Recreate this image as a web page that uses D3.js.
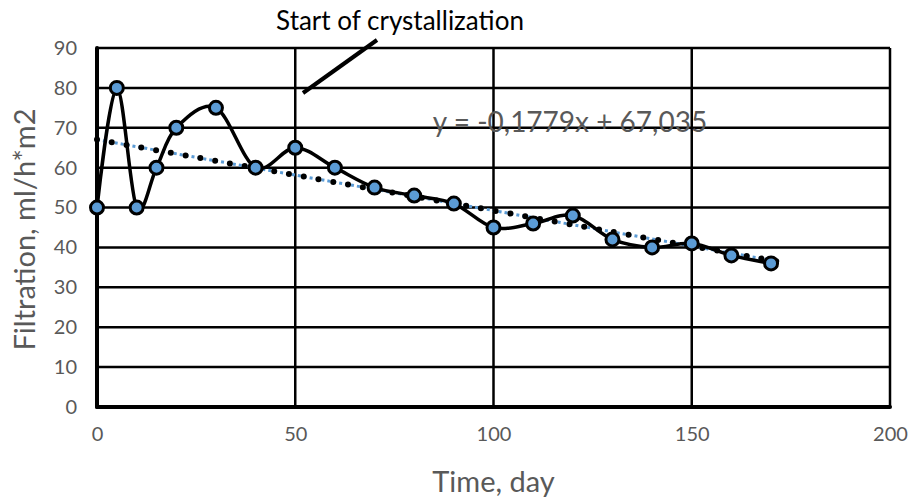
<!DOCTYPE html>
<html lang="en">
<head>
<meta charset="utf-8" />
<title>Filtration</title>
<script src="https://cdn.jsdelivr.net/npm/d3@7"></script>
<style>
  body { margin: 0; background: #fff; font-family: Lato, "Open Sans", sans-serif; }
  .tick text { fill: #595959; font-size: 20px; }
</style>
</head>
<body>
<div id="chart"></div>
<script>
var width = 912, height = 498;
var margin = {left: 97, right: 22, top: 48, bottom: 91};

// data
var days = [0, 5, 10, 15, 20, 30, 40, 50, 60, 70, 80, 90, 100, 110, 120, 130, 140, 150, 160, 170];
var filtration = [50, 80, 50, 60, 70, 75, 60, 65, 60, 55, 53, 51, 45, 46, 48, 42, 40, 41, 38, 36];
var xTicks = [0, 50, 100, 150, 200];
var yTicks = [0, 10, 20, 30, 40, 50, 60, 70, 80, 90];
var slope = -0.1779, intercept = 67.035;
var trendRange = [0, 172];

var svg = d3.select("#chart").append("svg")
  .attr("width", width)
  .attr("height", height);

var x = d3.scaleLinear().domain([0, 200]).range([margin.left, width - margin.right]);
var y = d3.scaleLinear().domain([0, 90]).range([height - margin.bottom, margin.top]);

// grid
svg.append("g").selectAll("line").data(yTicks).enter().append("line")
  .attr("x1", x(0)).attr("x2", x(200))
  .attr("y1", function(d) { return y(d); }).attr("y2", function(d) { return y(d); })
  .attr("stroke", "#000").attr("stroke-width", 2.5);
svg.append("g").selectAll("line").data(xTicks).enter().append("line")
  .attr("y1", y(0)).attr("y2", y(90))
  .attr("x1", function(d) { return x(d); }).attr("x2", function(d) { return x(d); })
  .attr("stroke", "#000").attr("stroke-width", 2.5);

// main axes, heavier
svg.append("line").attr("x1", x(0)).attr("x2", x(200)).attr("y1", y(0)).attr("y2", y(0))
  .attr("stroke", "#000").attr("stroke-width", 4).attr("stroke-linecap", "round");
svg.append("line").attr("x1", x(0)).attr("x2", x(0)).attr("y1", y(0)).attr("y2", y(90))
  .attr("stroke", "#000").attr("stroke-width", 4).attr("stroke-linecap", "round");

// tick labels
var xAxis = svg.append("g").attr("transform", "translate(0," + (y(0) + 12) + ")")
  .call(d3.axisBottom(x).tickValues(xTicks).tickSize(0).tickPadding(8));
xAxis.select(".domain").remove();
var yAxis = svg.append("g").attr("transform", "translate(" + (x(0) - 16) + ",0)")
  .call(d3.axisLeft(y).tickValues(yTicks).tickSize(0).tickPadding(4));
yAxis.select(".domain").remove();
svg.selectAll(".tick text").attr("font-family", "Lato, 'Open Sans', sans-serif");

// axis titles
svg.append("text").attr("x", x(100)).attr("y", 492)
  .attr("text-anchor", "middle").attr("fill", "#595959").attr("font-size", 29)
  .text("Time, day");
svg.append("text").attr("transform", "translate(35," + (y(45) + 2) + ") rotate(-90)")
  .attr("text-anchor", "middle").attr("fill", "#595959").attr("font-size", 29)
  .text("Filtration, ml/h*m2");

// trend line: blue dotted under black dots
var trend = trendRange.map(function(d) { return [d, slope * d + intercept]; });
var tline = d3.line().x(function(d) { return x(d[0]); }).y(function(d) { return y(d[1]); });
svg.append("path").datum(trend).attr("d", tline)
  .attr("fill", "none").attr("stroke", "#5b9bd5").attr("stroke-width", 3)
  .attr("stroke-dasharray", "3,3");
svg.append("path").datum(trend).attr("d", tline)
  .attr("fill", "none").attr("stroke", "#000").attr("stroke-width", 6)
  .attr("stroke-linecap", "round").attr("stroke-dasharray", "0,15");

// smoothed series
var pts = days.map(function(d, i) { return [d, filtration[i]]; });
var line = d3.line().curve(d3.curveCatmullRom.alpha(0))
  .x(function(d) { return x(d[0]); }).y(function(d) { return y(d[1]); });
svg.append("path").datum(pts).attr("d", line)
  .attr("fill", "none").attr("stroke", "#000").attr("stroke-width", 3.5);

svg.append("g").selectAll("circle").data(pts).enter().append("circle")
  .attr("cx", function(d) { return x(d[0]); })
  .attr("cy", function(d) { return y(d[1]); })
  .attr("r", 6.5)
  .attr("fill", "#5b9bd5").attr("stroke", "#000").attr("stroke-width", 3);

// equation label
svg.append("text").attr("x", 570).attr("y", 132)
  .attr("text-anchor", "middle").attr("fill", "#595959").attr("font-size", 28)
  .text("y = -0,1779x + 67,035");

// annotation
svg.append("text").attr("x", 400).attr("y", 30)
  .attr("text-anchor", "middle").attr("fill", "#000").attr("font-size", 26)
  .text("Start of crystallization");
svg.append("line").attr("x1", 303).attr("y1", 93).attr("x2", 377).attr("y2", 40)
  .attr("stroke", "#000").attr("stroke-width", 4);
</script>
</body>
</html>
